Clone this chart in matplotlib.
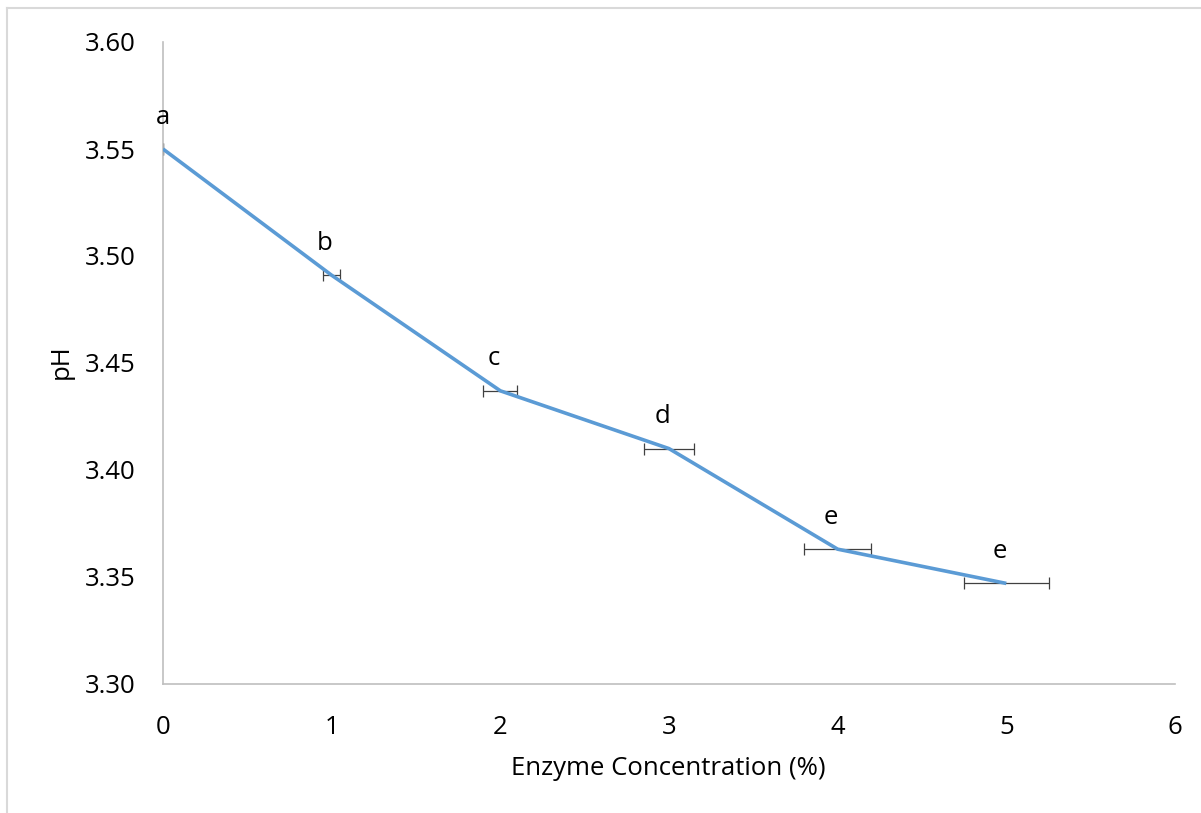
import matplotlib
matplotlib.use("Agg")
import matplotlib.pyplot as plt
from matplotlib.lines import Line2D

# Enzyme concentration (%) and measured pH
concentration = [0, 1, 2, 3, 4, 5]
ph_values = [3.550, 3.491, 3.437, 3.410, 3.363, 3.347]
x_error = [0.0, 0.05, 0.10, 0.15, 0.20, 0.25]
group_letters = ["a", "b", "c", "d", "e", "e"]

x_ticks = [0, 1, 2, 3, 4, 5, 6]
y_ticks = [3.30, 3.35, 3.40, 3.45, 3.50, 3.55, 3.60]

plt.rcParams["font.family"] = ["Open Sans", "DejaVu Sans"]
FS = 18.5

W, H = 1201, 813
fig = plt.figure(figsize=(W / 100, H / 100), dpi=100)
ax = fig.add_axes([163 / W, 1 - 684 / H, (1175 - 163) / W, (684 - 42) / H])

# light frame around the chart area (top and left edges)
frame_col = "#d9d9d9"
fig.add_artist(Line2D([7 / W, 1], [1 - 8 / H, 1 - 8 / H], color=frame_col, lw=1.5,
                      transform=fig.transFigure))
fig.add_artist(Line2D([7 / W, 7 / W], [0, 1 - 8 / H], color=frame_col, lw=1.5,
                      transform=fig.transFigure))

ax.errorbar(concentration, ph_values, xerr=x_error, fmt="none", ecolor="#404040",
            elinewidth=0.9, capsize=4, capthick=0.9, zorder=2)
ax.plot(concentration, ph_values, color="#5B9BD5", lw=2.6, zorder=3,
        solid_capstyle="butt")

label_dx = [0, -5, -5, -5, -5, -5]
for x, y, lab, dx in zip(concentration, ph_values, group_letters, label_dx):
    ax.annotate(lab, (x, y), xytext=(dx, 23), textcoords="offset points",
                ha="center", va="center", fontsize=FS, color="#000000")

ax.set_xlim(0, 6)
ax.set_ylim(3.30, 3.60)
ax.set_xticks(x_ticks)
ax.set_yticks(y_ticks)
ax.set_yticklabels([f"{v:.2f}" for v in y_ticks])
ax.tick_params(axis="both", length=0, labelsize=FS, colors="#000000")
ax.tick_params(axis="y", pad=20)
ax.tick_params(axis="x", pad=22)

for side in ["top", "right"]:
    ax.spines[side].set_visible(False)
for side in ["left", "bottom"]:
    ax.spines[side].set_color("#bfbfbf")
    ax.spines[side].set_linewidth(1.2)

ax.set_xlabel("Enzyme Concentration (%)", fontsize=FS)
ax.set_ylabel("pH", fontsize=FS)
ax.xaxis.set_label_coords((668 - 163) / (1175 - 163), -(775 - 684) / (684 - 42))
ax.yaxis.set_label_coords(-(163 - 61) / (1175 - 163), (684 - 362) / (684 - 42))
ax.xaxis.label.set_va("baseline")
ax.yaxis.label.set_va("center")

fig.savefig("out.png", dpi=100)
